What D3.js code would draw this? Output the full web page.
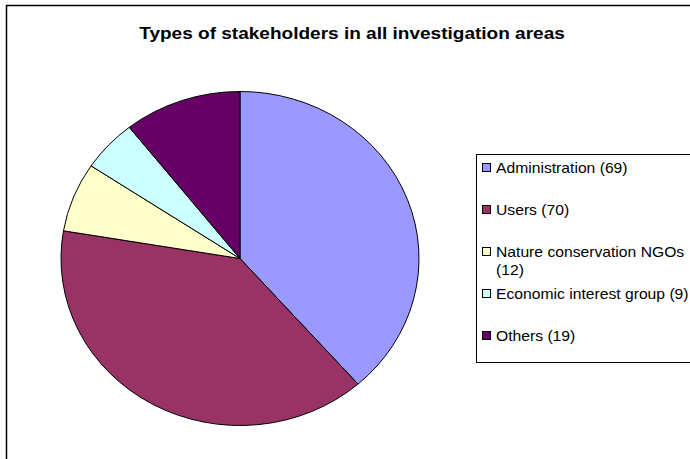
<!DOCTYPE html>
<html>
<head>
<meta charset="utf-8">
<script src="https://cdn.jsdelivr.net/npm/d3@7"></script>
<style>
  body { margin: 0; background: #fff; }
  text { font-family: Arial, "Liberation Sans", sans-serif; }
</style>
</head>
<body>
<svg class="stakeholders" width="690" height="459"></svg>
<script>
// chart data
var categories = ["Administration", "Users", "Nature conservation NGOs", "Economic interest group", "Others"];
var counts = [69, 70, 12, 9, 19];
var legendLabels = [["Administration (69)"], ["Users (70)"], ["Nature conservation NGOs", "(12)"], ["Economic interest group (9)"], ["Others (19)"]];
var colors = ["#9999ff", "#993366", "#ffffcc", "#ccffff", "#660066"];

var svg = d3.select(".stakeholders");
var stretch = 1.12; // original text is a bit wide

// outer chart frame
svg.append("rect")
  .attr("x", 6.5).attr("y", 5.5)
  .attr("width", 700).attr("height", 470)
  .attr("fill", "none")
  .attr("stroke", "#000")
  .attr("stroke-width", 1.5);

svg.append("g")
  .attr("transform", "translate(352,39) scale(" + stretch + ",1)")
  .append("text")
  .attr("text-anchor", "middle")
  .style("font-size", "17px")
  .style("font-weight", "bold")
  .text("Types of stakeholders in all investigation areas");

// pie is a bit squashed vertically, like the original
var rx = 179, ry = 167;
var pie = d3.pie().sort(null).value(function(d) { return d; });
var arc = d3.arc().innerRadius(0).outerRadius(rx);

var g = svg.append("g")
  .attr("transform", "translate(240,258.5) scale(1," + (ry / rx) + ")");

g.selectAll("path")
  .data(pie(counts))
  .enter().append("path")
  .attr("d", arc)
  .attr("fill", function(d, i) { return colors[i]; })
  .attr("stroke", "#000")
  .attr("stroke-width", 1)
  .attr("vector-effect", "non-scaling-stroke");

// legend
var legend = svg.append("g");
legend.append("rect")
  .attr("x", 476.5).attr("y", 154.5)
  .attr("width", 240).attr("height", 208)
  .attr("fill", "#fff")
  .attr("stroke", "#000")
  .attr("stroke-width", 1);

var rowY = d3.scalePoint().domain(categories).range([168, 336]);

var item = legend.selectAll("g.item")
  .data(categories)
  .enter().append("g")
  .attr("class", "item")
  .attr("transform", function(d) { return "translate(0," + rowY(d) + ")"; });

item.append("rect")
  .attr("x", 482.5).attr("y", -4.5)
  .attr("width", 8).attr("height", 8)
  .attr("fill", function(d, i) { return colors[i]; })
  .attr("stroke", "#000")
  .attr("stroke-width", 1);

item.append("g")
  .attr("transform", "translate(496,0) scale(" + stretch + ",1)")
  .append("text")
  .style("font-size", "14px")
  .attr("fill", "#000")
  .each(function(d, i) {
    var t = d3.select(this);
    legendLabels[i].forEach(function(line, k) {
      t.append("tspan").attr("x", 0).attr("y", 5 + k * 18).text(line);
    });
  });
</script>
</body>
</html>
